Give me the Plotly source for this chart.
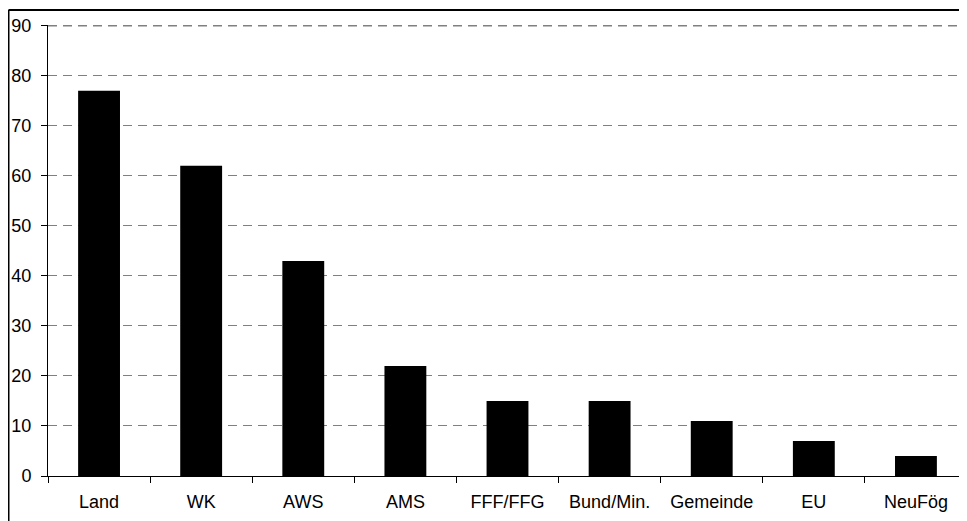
import plotly.graph_objects as go

categories = ["Land", "WK", "AWS", "AMS", "FFF/FFG", "Bund/Min.", "Gemeinde", "EU", "NeuFög"]
values = [77, 62, 43, 22, 15, 15, 11, 7, 4]
y_ticks = [0, 10, 20, 30, 40, 50, 60, 70, 80, 90]

fig = go.Figure(go.Bar(
    x=categories, y=values,
    marker=dict(color="black", line=dict(width=0)),
    width=0.41,
))

W, H = 967, 521
ml, mr, mt, mb = 40, 8, 17, 53
pw = W - ml - mr
ph = H - mt - mb
bx = 0.5   # border x (figure px)
by = 2     # border y (figure px)

fig.update_layout(
    width=W, height=H,
    margin=dict(l=ml, r=mr, t=mt, b=mb),
    paper_bgcolor="white", plot_bgcolor="white",
    font=dict(family="Arial, Liberation Sans, sans-serif", size=18, color="black"),
    showlegend=False,
    xaxis=dict(
        showline=True, linecolor="black", linewidth=1,
        ticks="outside", ticklen=6, tickcolor="black", tickson="boundaries",
        showgrid=False, ticklabelstandoff=9, automargin=False,
        range=[-0.5, 8.5],
    ),
    yaxis=dict(
        range=[0, 90.15], tickvals=y_ticks,
        showline=True, linecolor="black", linewidth=1,
        ticks="outside", ticklen=6, tickcolor="black",
        showgrid=True, gridcolor="#808080", gridwidth=1, griddash="9px,6px",
        zeroline=False, ticklabelstandoff=6, automargin=False,
    ),
    shapes=[
        dict(type="line", xref="paper", yref="y",
             x0=0, x1=1, y0=y_ticks[-1], y1=y_ticks[-1],
             line=dict(color="#808080", width=1.5, dash="9px,6px"), layer="below"),
        dict(type="line", xref="paper", yref="paper",
             x0=(bx - ml) / pw, x1=1.05, y0=(H - mb - by) / ph, y1=(H - mb - by) / ph,
             line=dict(color="black", width=2)),
        dict(type="line", xref="paper", yref="paper",
             x0=(bx - ml) / pw, x1=(bx - ml) / pw, y0=(H - mb - by) / ph, y1=-0.2,
             line=dict(color="black", width=2)),
    ],
)

fig.write_html("out.html")
